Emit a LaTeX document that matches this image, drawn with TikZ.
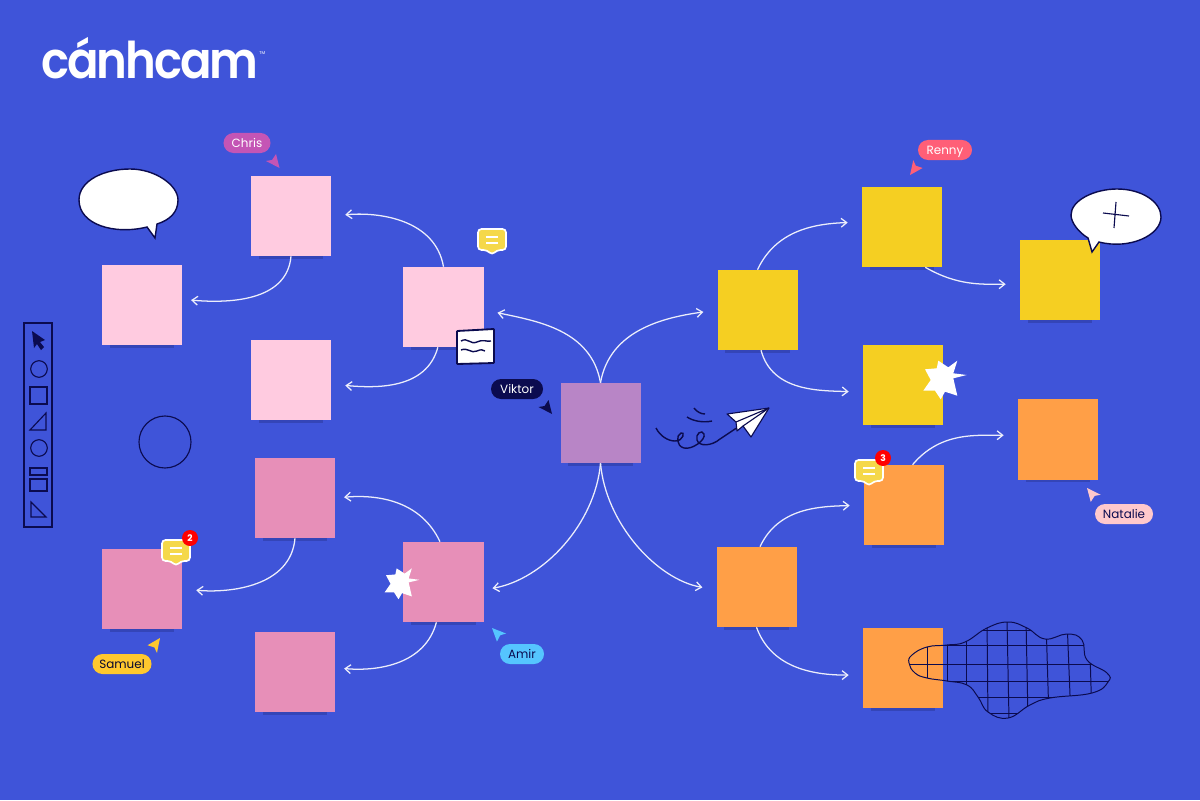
\documentclass[tikz,border=0pt]{standalone}
\usepackage{fontspec}
\setmainfont{Poppins}
\newfontfamily\logofont[UprightFont=* SemiBold,LetterSpace=-4,FakeStretch=0.92]{Poppins}
\usetikzlibrary{arrows.meta,shapes.misc}
\definecolor{boardblue}{HTML}{3F54D9}
\definecolor{inkblue}{HTML}{0B0B4F}
\definecolor{lightpink}{HTML}{FFCBE0}
\definecolor{darkpink}{HTML}{E78FB8}
\definecolor{plum}{HTML}{B885C6}
\definecolor{noteyellow}{HTML}{F5CF22}
\definecolor{noteorange}{HTML}{FF9F47}
\definecolor{chipyellow}{HTML}{F5D84A}
\definecolor{noteshade}{HTML}{3445B8}
\definecolor{chriscol}{HTML}{C455B5}
\definecolor{rennycol}{HTML}{FF5F77}
\definecolor{nataliecol}{HTML}{FFC9CC}
\definecolor{samuelcol}{HTML}{FFC82E}
\definecolor{amircol}{HTML}{55C5FF}
\begin{document}
\begin{tikzpicture}[
  x=0.025cm, y=0.025cm,
  every node/.style={font=\small},
  notebox/.style={minimum size=2cm, inner sep=0pt},
  namepill/.style={rounded rectangle, minimum height=0.5cm, inner sep=0pt, text height=2.3mm, text depth=0.1mm, font=\fontsize{8.5}{9}\selectfont},
  link/.style={draw=white!90!boardblue, line width=0.9pt, -{Straight Barb[length=1.4mm,width=2.2mm]}, shorten >=0.35cm},
  shortlink/.style={link, shorten >=0.22cm},
  inkline/.style={draw=inkblue, line width=0.8pt},
  cursortip/.pic={\fill[pic actions] (0,0) -- (-13.5,7) -- (-7.5,8) -- (-3.5,14) -- cycle;},
  spark/.pic={\fill[white] (21.7,4) -- (8.3,0.7) -- (12.3,-16.7) -- (0,-12.7) -- (-4.3,-20.3) -- (-10,-11.7) -- (-21.7,-11.7) -- (-14.3,-1) -- (-20,9.7) -- (-8.3,10.7) -- (-6.7,18.3) -- (3.3,11.7) -- (12.3,18.3) -- (8.3,5.7) -- cycle;},
  chatchip/.pic={
    \draw[white, line width=1.2pt, fill=chipyellow, rounded corners=2.5pt] (-14,11) -- (14,11) -- (14,-10) -- (5,-10) -- (0,-15) -- (-5,-10) -- (-14,-10) -- cycle;
    \draw[white, line width=1.2pt] (-6,3) -- (6,3) (-6,-3) -- (6,-3);
  },
  countdot/.style={circle, fill=red, text=white, minimum size=0.4cm, inner sep=0pt, font=\fontsize{6.5}{6.5}\bfseries\selectfont}
]
\useasboundingbox (0,0) rectangle (1200,-800);
\fill[boardblue] (0,0) rectangle (1200,-800);

% Logo
\node[text=white, font=\fontsize{36}{36}\logofont, anchor=base west, inner sep=0pt] (logo) at (41,-79) {cánhcam};
\node[text=white, font=\fontsize{3}{4}\selectfont, anchor=west, inner sep=0pt] (tm) at (logo.east |- 0,-53) {TM};

% Notes
\node[notebox, fill=plum] (center) at (600.5,-423) {};

\node[notebox, fill=lightpink] (pinkA) at (291,-216) {};
\node[notebox, fill=lightpink] (pinkB) at (142,-305) {};
\node[notebox, fill=lightpink] (pinkC) at (443.5,-307) {};
\node[notebox, fill=lightpink] (pinkD) at (291,-380) {};

\node[notebox, fill=darkpink] (roseA) at (295,-498) {};
\node[notebox, fill=darkpink] (roseB) at (142,-589) {};
\node[notebox, fill=darkpink] (roseC) at (443.5,-582) {};
\node[notebox, fill=darkpink] (roseD) at (295,-672) {};

\node[notebox, fill=noteyellow] (yelA) at (757.5,-310) {};
\node[notebox, fill=noteyellow] (yelB) at (902,-227) {};
\node[notebox, fill=noteyellow] (yelC) at (1060,-280) {};
\node[notebox, fill=noteyellow] (yelD) at (903,-385) {};

\node[notebox, fill=noteorange] (oraA) at (756.5,-587) {};
\node[notebox, fill=noteorange] (oraB) at (904,-505) {};
\node[notebox, fill=noteorange] (oraC) at (1058,-439.5) {};
\node[notebox, fill=noteorange] (oraD) at (903,-668) {};

% Shade under the notes
\foreach \n in {center,pinkA,pinkB,pinkC,pinkD,roseA,roseB,roseC,roseD,yelA,yelB,yelC,yelD,oraA,oraB,oraC,oraD}
  \fill[noteshade] ([xshift=0.2cm]\n.south west) rectangle ([xshift=-0.2cm,yshift=-0.06cm]\n.south east);

% Connectors
\draw[link] (center.north) to[out=100,in=-12] (pinkC.-4);
\draw[link] (center.north) to[out=80,in=188] (yelA.west);
\draw[shortlink] (center.south) to[out=-95,in=10, looseness=0.9] (roseC.-11);
\draw[link] (center.south) to[out=-85,in=170, looseness=0.9] (oraA.-176);

\draw[link] (pinkC.north) to[out=100,in=5] (pinkA.east);
\draw[link] (pinkC.-98) to[out=-105,in=-5] (pinkD.-6);
\draw[shortlink] (pinkA.south) to[out=-95,in=-5] (pinkB.8);

\draw[shortlink] (roseC.95) to[out=115,in=5] (roseA.east);
\draw[shortlink] (roseC.-100) to[out=-105,in=-5] (roseD.6);
\draw[link] (roseA.south) to[out=-95,in=-5] (roseB.east);

\draw[link] (yelA.north) to[out=65,in=182] (yelB.173);
\draw[link] (yelA.-85) to[out=-75,in=178] (yelD.190);
\draw[link] (yelB.-60) to[out=-30,in=180] (yelC.186);

\draw[link] (oraA.85) to[out=65,in=182] (oraB.west);
\draw[link] (oraA.south) to[out=-70,in=180] (oraD.190);
\draw[link] (oraB.78) to[out=50,in=180] (oraC.174);

% Names and cursors
\node[namepill, fill=chriscol, text=white, minimum width=1.175cm] (chris) at (247,-143) {Chris};
\pic[fill=chriscol] at (279.5,-168) {cursortip};
\node[namepill, fill=rennycol, text=white, minimum width=1.35cm] (renny) at (945,-150) {Renny};
\pic[fill=rennycol, rotate=-75] at (910,-175) {cursortip};
\node[namepill, fill=inkblue, text=white, minimum width=1.3cm] (viktor) at (517,-389) {Viktor};
\pic[fill=inkblue] at (552,-414) {cursortip};
\node[namepill, fill=nataliecol, text=inkblue, minimum width=1.45cm] (natalie) at (1124,-514) {Natalie};
\pic[fill=nataliecol, rotate=181] at (1087,-488) {cursortip};
\node[namepill, fill=samuelcol, text=inkblue!60!black, minimum width=1.475cm] (samuel) at (122,-664) {Samuel};
\pic[fill=samuelcol, rotate=106] at (160,-638) {cursortip};
\node[namepill, fill=amircol, text=inkblue, minimum width=1.1cm] (amir) at (522,-654) {Amir};
\pic[fill=amircol, rotate=186] at (492,-628) {cursortip};

% Chips
\pic at (492,-240) {chatchip};
\pic at (176,-551) {chatchip};
\node[countdot] (countA) at (190,-538) {2};
\pic at (869,-471) {chatchip};
\node[countdot] (countB) at (883,-458) {3};

% Sparks
\pic at (945,-379) {spark};
\pic[scale=0.8] at (402,-583) {spark};

% Bubbles
\draw[inkline, fill=white, line width=1pt] (147,-227) .. controls (115,-235) and (79,-225) .. (79,-200) .. controls (79,-180) and (105,-169) .. (130,-169) .. controls (155,-169) and (178,-185) .. (178,-200) .. controls (178,-212) and (170,-220) .. (157,-224) -- (155,-238) -- cycle;
\draw[inkline, fill=white, line width=1pt] (1088,-238) .. controls (1078,-232) and (1071,-222) .. (1071,-215) .. controls (1071,-200) and (1095,-189) .. (1117,-189) .. controls (1142,-189) and (1161,-202) .. (1161,-217) .. controls (1161,-235) and (1130,-250) .. (1099,-242) -- (1092,-252) -- cycle;
\draw[inkline] (1103,-213) -- (1129,-216) (1116,-202) -- (1114,-228);

% Paper
\draw[inkline, fill=white, line width=1.3pt, rounded corners=0.5pt] (457,-331) -- (494,-329) -- (494,-363) -- (457,-364) -- cycle;
\draw[inkline, line width=1pt] (461,-341) .. controls (468,-337) and (470,-345) .. (477,-342) .. controls (484,-339) and (486,-342) .. (491,-341);
\draw[inkline, line width=1pt] (461,-350) .. controls (468,-347) and (471,-354) .. (477,-351) .. controls (481,-349) and (483,-350) .. (485,-351);

% Paper plane
\draw[inkline, line width=1pt] (656,-428) .. controls (660,-436) and (668,-441) .. (675,-441) .. controls (684,-441) and (685,-431) .. (681,-433) .. controls (676,-435) and (676,-446) .. (684,-448) .. controls (692,-450) and (706,-440) .. (704,-434) .. controls (702,-429) and (695,-434) .. (697,-440) .. controls (699,-447) and (712,-446) .. (720,-439) .. controls (726,-435) and (732,-431) .. (738,-427);
\draw[inkline, line width=1pt] (694,-408) .. controls (697,-412) and (701,-414) .. (705,-414);
\draw[inkline, line width=1pt] (687,-417) .. controls (693,-421) and (703,-423) .. (712,-421);
\draw[inkline, fill=white, line join=round] (769,-408) -- (727,-414) -- (736,-422) -- (737,-431) -- (743,-426) -- (751,-437) -- cycle;
\draw[inkline] (736,-422) -- (769,-408) (743,-426) -- (769,-408);

% Toolbar
\draw[inkline] (24,-323) rectangle (52,-527);
\fill[inkblue] (32,-331) -- (45,-340) -- (40,-342) -- (44,-347) -- (41,-350) -- (37,-344) -- (34,-348) -- cycle;
\draw[inkline] (39,-369) circle (8.3);
\draw[inkline] (30,-387) rectangle (47,-404);
\draw[inkline] (30,-430) -- (46,-413) -- (46,-430) -- cycle;
\draw[inkline] (39,-448) circle (8.3);
\draw[inkline] (30,-468) rectangle (47,-475);
\draw[inkline] (30,-479) rectangle (47,-491);
\draw[inkline] (31,-502) -- (31,-517) -- (46,-517) -- cycle;

% Circle
\draw[inkline] (165,-442) circle (26);

% Grid blob
\begin{scope}
\def\blobpath{plot[smooth cycle, tension=0.75] coordinates {(909,-663) (912,-655) (927,-647) (947,-645) (965,-642) (987,-628) (1008,-622) (1027,-628) (1045,-639) (1067,-634) (1082,-640) (1087,-660) (1107,-673) (1108,-682) (1092,-693) (1050,-698) (1030,-705) (1008,-718) (988,-712) (978,-697) (967,-685) (947,-681) (927,-678) (915,-673)}}
\draw[inkline, line width=0.7pt] \blobpath;
\clip \blobpath;
\foreach \gy in {630,645,664,681,697,713}
  \draw[inkline, line width=0.7pt] (900,-\gy) -- (1115,-\gy);
\foreach \gxa/\gxb in {927/927,947/947,966/966,987/988,1007/1009,1026/1028,1046/1049,1067/1071,1089/1092}
  \draw[inkline, line width=0.7pt] (\gxa,-620) -- (\gxb,-720);
\end{scope}
\end{tikzpicture}
\end{document}
